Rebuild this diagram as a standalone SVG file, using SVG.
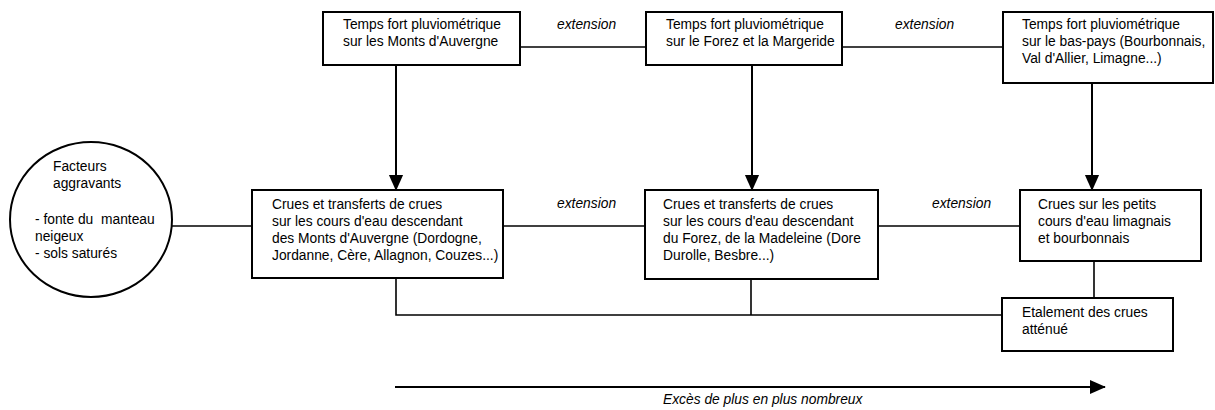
<svg xmlns="http://www.w3.org/2000/svg" width="1215" height="410" viewBox="0 0 1215 410">
<style>
.box{fill:#fff;stroke:#000;stroke-width:2}
.t{font-family:"Liberation Sans",Arial,sans-serif;font-size:13.8px;fill:#000}
.i{font-style:italic}
.c{fill:none;stroke:#000;stroke-width:1.6}
.a{fill:none;stroke:#000;stroke-width:2}
</style>
<defs>
<marker id="ah" markerUnits="userSpaceOnUse" markerWidth="16" markerHeight="18" refX="17" refY="8" orient="auto" viewBox="0 0 18 16">
<path d="M0 0 L18 8 L0 16 Z" fill="#000"/>
</marker>
</defs>
<rect width="1215" height="410" fill="#fff"/>
<g id="connectors">
<line class="c" x1="520" y1="47" x2="646" y2="47"/>
<line class="c" x1="842" y1="47" x2="1003" y2="47"/>
<line class="a" x1="396" y1="65" x2="396" y2="190" marker-end="url(#ah)"/>
<line class="a" x1="752" y1="65" x2="752" y2="190" marker-end="url(#ah)"/>
<line class="a" x1="1092" y1="83" x2="1092" y2="190" marker-end="url(#ah)"/>
<line class="c" x1="172" y1="226" x2="252" y2="226"/>
<line class="c" x1="503" y1="226" x2="645" y2="226"/>
<line class="c" x1="878" y1="226" x2="1020" y2="226"/>
<line class="c" x1="1094" y1="261" x2="1094" y2="298"/>
<path class="c" d="M396 278 V315 H1002"/>
<line class="c" x1="751" y1="279" x2="751" y2="315"/>
<line class="a" x1="395" y1="387" x2="1105" y2="387" marker-end="url(#ah)"/>
<text class="t i" x="557" y="29">extension</text>
<text class="t i" x="895" y="29">extension</text>
<text class="t i" x="557" y="208">extension</text>
<text class="t i" x="932" y="208">extension</text>
<text class="t i" x="663" y="404">Excès de plus en plus nombreux</text>
</g>
<g id="n-facteurs">
<ellipse cx="91" cy="219.5" rx="81" ry="77.5" fill="#fff" stroke="#000" stroke-width="2"/>
<text class="t" x="53" y="171">Facteurs</text>
<text class="t" x="53" y="188">aggravants</text>
<text class="t" x="35" y="224" xml:space="preserve" style="white-space:pre">- fonte du  manteau</text>
<text class="t" x="35" y="241">neigeux</text>
<text class="t" x="35" y="258">- sols saturés</text>
</g>
<g id="n-tf-auvergne">
<rect class="box" x="323" y="12" width="197" height="53"/>
<text class="t" x="343" y="29">Temps fort pluviométrique</text>
<text class="t" x="343" y="46">sur les Monts d'Auvergne</text>
</g>
<g id="n-tf-forez">
<rect class="box" x="646" y="12" width="196" height="53"/>
<text class="t" x="666" y="29">Temps fort pluviométrique</text>
<text class="t" x="666" y="46">sur le Forez et la Margeride</text>
</g>
<g id="n-tf-baspays">
<rect class="box" x="1003" y="12" width="210" height="71"/>
<text class="t" x="1022" y="29">Temps fort pluviométrique</text>
<text class="t" x="1022" y="46">sur le bas-pays (Bourbonnais,</text>
<text class="t" x="1022" y="63">Val d'Allier, Limagne...)</text>
</g>
<g id="n-crues-auvergne">
<rect class="box" x="252" y="190" width="251" height="88"/>
<text class="t" x="272" y="209">Crues et transferts de crues</text>
<text class="t" x="272" y="226">sur les cours d'eau descendant</text>
<text class="t" x="272" y="243">des Monts d'Auvergne (Dordogne,</text>
<text class="t" x="272" y="260">Jordanne, Cère, Allagnon, Couzes...)</text>
</g>
<g id="n-crues-forez">
<rect class="box" x="645" y="190" width="233" height="89"/>
<text class="t" x="663" y="209">Crues et transferts de crues</text>
<text class="t" x="663" y="226">sur les cours d'eau descendant</text>
<text class="t" x="663" y="243">du Forez, de la Madeleine (Dore</text>
<text class="t" x="663" y="260">Durolle, Besbre...)</text>
</g>
<g id="n-crues-petits">
<rect class="box" x="1020" y="190" width="181" height="71"/>
<text class="t" x="1038" y="209">Crues sur les petits</text>
<text class="t" x="1038" y="226">cours d'eau limagnais</text>
<text class="t" x="1038" y="243">et bourbonnais</text>
</g>
<g id="n-etalement">
<rect class="box" x="1002" y="298" width="171" height="53"/>
<text class="t" x="1022" y="317">Etalement des crues</text>
<text class="t" x="1022" y="334">atténué</text>
</g>
</svg>
